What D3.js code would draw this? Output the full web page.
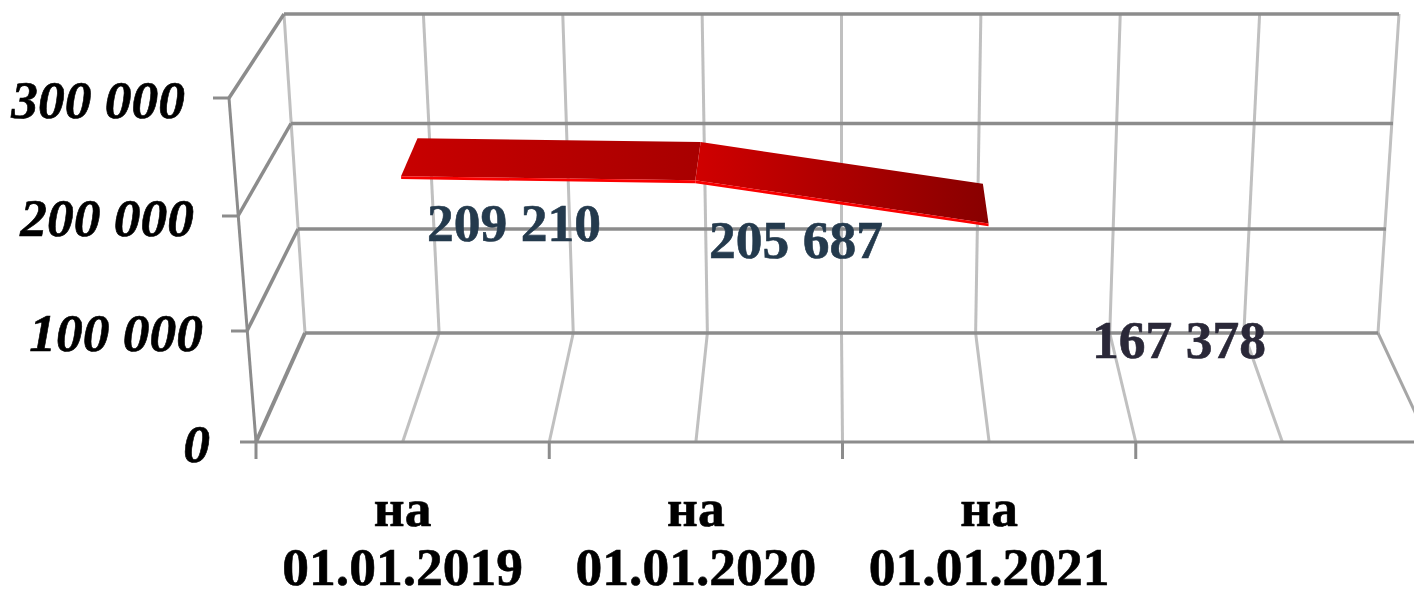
<!DOCTYPE html>
<html>
<head>
<meta charset="utf-8">
<script src="https://cdnjs.cloudflare.com/ajax/libs/d3/7.8.5/d3.min.js"></script>
<style>
  html, body { margin: 0; padding: 0; background: #fff; }
  svg { display: block; }
  text { font-family: "Liberation Serif", "Times New Roman", serif; font-weight: bold; stroke-width: 0.6px; }
</style>
</head>
<body>
<svg id="chart" width="1414" height="590"></svg>
<script>
// data
const categories = ["01.01.2019", "01.01.2020", "01.01.2021"];
const values = [209210, 205687, 167378];
const valueLabels = ["209 210", "205 687", "167 378"];
const yTicks = [0, 100000, 200000, 300000];
const yTickLabels = ["0", "100 000", "200 000", "300 000"];
const catPrefix = "на";

// layout of the fake 3d box
const W = 1414, H = 590;
const nDiv = 8; // 4 category slots, 2 divisions each
const ribbonFront = 0.315, ribbonBack = 0.73;
const labelPos = [[514, 241], [796, 258], [1179, 358]];
const labelCols = ["#243a4d", "#243a4d", "#2a2838"];
const fontSize = 53.5;

const frontY = d3.scaleLinear().domain(yTicks).range([442, 331, 216, 98]);
const backY = d3.scaleLinear().domain(yTicks).range([333, 229, 123.5, 14]);
const frontL = d3.scaleLinear().domain(yTicks).range([256, 247, 238, 229]);
const backL = d3.scaleLinear().domain(yTicks).range([305, 298, 291, 284]);
const frontR = d3.scaleLinear().domain(yTicks).range([1429, 1438, 1447, 1456]);
const backR = d3.scaleLinear().domain(yTicks).range([1378, 1386, 1393, 1399]);
const depth = d3.interpolateNumber;

// u = position along category axis (0..nDiv), v = value, d = depth (0 front, 1 back)
function project(u, v, d) {
  const xf = frontL(v) + (frontR(v) - frontL(v)) * u / nDiv;
  const xb = backL(v) + (backR(v) - backL(v)) * u / nDiv;
  return [depth(xf, xb)(d), depth(frontY(v), backY(v))(d)];
}

const svg = d3.select("#chart").attr("viewBox", `0 0 ${W} ${H}`);
const line = d3.line();
const yMax = yTicks[yTicks.length - 1];
const divs = d3.range(nDiv + 1);

function seg(g, pts, col, w) {
  g.append("path").attr("d", line(pts)).attr("fill", "none")
    .attr("stroke", col).attr("stroke-width", w);
}

const grid = svg.append("g");

// back wall verticals and floor lines
divs.forEach((u) => {
  seg(grid, [project(u, 0, 1), project(u, yMax, 1)], "#c0c0c0", 3);
  if (u > 0) seg(grid, [project(u, 0, 0), project(u, 0, 1)], u == nDiv ? "#a6a6a6" : "#c0c0c0", 3);
});

// horizontal gridlines + side wall
yTicks.forEach((v) => {
  seg(grid, [project(0, v, 1), project(nDiv, v, 1)], "#8c8c8c", 3.5);
  seg(grid, [project(0, v, 0), project(0, v, 1)], "#8c8c8c", v == 0 ? 4 : 3.5);
  // left tick
  const p = project(0, v, 0);
  seg(grid, [[p[0] - 16, p[1]], p], "#8c8c8c", 3);
});

// front edges
seg(grid, [project(0, 0, 0), project(0, yMax, 0)], "#8c8c8c", 3);
seg(grid, [project(0, 0, 0), project(nDiv, 0, 0)], "#8c8c8c", 3);
d3.range(0, nDiv, 2).forEach((u) => {
  const p = project(u, 0, 0);
  seg(grid, [p, [p[0], p[1] + 17]], "#8c8c8c", 3);
});

// gradients for the two ribbon pieces
const defs = svg.append("defs");
[["#c80000", "#a80000"], ["#d00000", "#880000"]].forEach((c, i) => {
  const g = defs.append("linearGradient").attr("id", "rib" + i);
  g.append("stop").attr("offset", "0%").attr("stop-color", c[0]);
  g.append("stop").attr("offset", "100%").attr("stop-color", c[1]);
});

// ribbon
const ribbon = svg.append("g");
const slot = (i) => 2 * i + 1;
d3.pairs(values).forEach(([a, b], i) => {
  const u0 = slot(i), u1 = slot(i + 1);
  ribbon.append("path")
    .attr("d", line([project(u0, a, ribbonBack), project(u1, b, ribbonBack),
                     project(u1, b, ribbonFront), project(u0, a, ribbonFront)]) + "Z")
    .attr("fill", `url(#rib${i})`);
  ribbon.append("path")
    .attr("d", line([project(u0, a, ribbonFront), project(u1, b, ribbonFront),
                     project(u1, b - 2500, ribbonFront), project(u0, a - 2500, ribbonFront)]) + "Z")
    .attr("fill", "#fa0000");
});

// y labels
svg.append("g").selectAll("text").data(yTicks).join("text")
  .attr("x", (d) => project(0, d, 0)[0] - (d == 0 ? 46 : 44))
  .attr("y", (d) => project(0, d, 0)[1] + 20)
  .attr("text-anchor", "end")
  .attr("font-style", "italic")
  .attr("font-size", fontSize)
  .attr("fill", "#000")
  .attr("stroke", "#000")
  .text((d, i) => yTickLabels[i]);

// category labels
const catG = svg.append("g").selectAll("g").data(categories).join("g")
  .attr("transform", (d, i) => `translate(${project(slot(i), 0, 0)[0]},0)`)
  .attr("stroke", "#000");
catG.append("text").attr("y", 526).attr("text-anchor", "middle").attr("font-size", fontSize).text(catPrefix);
catG.append("text").attr("y", 585).attr("text-anchor", "middle").attr("font-size", fontSize).text((d) => d);

// value labels
svg.append("g").selectAll("text").data(valueLabels).join("text")
  .attr("x", (d, i) => labelPos[i][0])
  .attr("y", (d, i) => labelPos[i][1])
  .attr("text-anchor", "middle")
  .attr("font-size", fontSize)
  .attr("fill", (d, i) => labelCols[i])
  .attr("stroke", (d, i) => labelCols[i])
  .text((d) => d);
</script>
</body>
</html>
